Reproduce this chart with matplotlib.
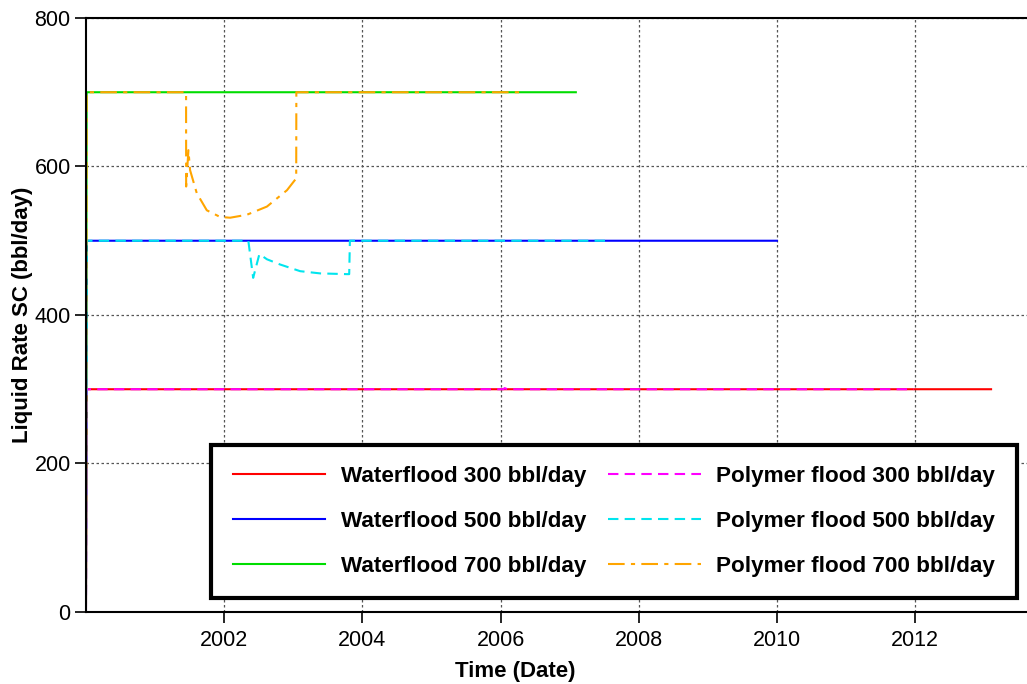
import numpy as np
import matplotlib
matplotlib.use("Agg")
import matplotlib.pyplot as plt

plt.rcParams['font.family'] = ['Liberation Sans', 'DejaVu Sans']

# time in decimal years, rate in bbl/day
wf300_t = [2000.0, 2000.01, 2013.10]
wf300_q = [0, 300, 300]
wf500_t = [2000.0, 2000.01, 2010.0]
wf500_q = [0, 500, 500]
wf700_t = [2000.0, 2000.01, 2007.09]
wf700_q = [0, 700, 700]

pf300_t = [2000.0, 2000.01, 2006.04, 2006.06, 2006.10, 2011.98]
pf300_q = [0, 300, 300, 301.5, 300, 300]
pf500_t = [2000.0, 2000.01, 2002.35, 2002.42, 2002.51, 2002.62, 2002.81,
           2003.10, 2003.39, 2003.78, 2003.81, 2003.82, 2007.55]
pf500_q = [0, 500, 500, 450, 482, 475, 468, 459, 456, 455, 455, 500, 500]
pf700_t = [2000.0, 2000.01, 2001.449, 2001.45, 2001.483, 2001.507, 2001.604,
           2001.749, 2001.942, 2002.087, 2002.329, 2002.619, 2002.909,
           2003.043, 2003.045, 2006.29]
pf700_q = [0, 700, 700, 573, 622, 595, 564, 541, 532, 531, 535, 546, 568,
           584, 700, 700]

fig = plt.figure(figsize=(10.27, 6.84), dpi=100)
ax = fig.add_axes([0.0837, 0.1053, 0.9163, 0.8684])

ax.plot(wf300_t, wf300_q, color='#FF0000', lw=1.5, label='Waterflood 300 bbl/day')
ax.plot(wf500_t, wf500_q, color='#0000FF', lw=1.5, label='Waterflood 500 bbl/day')
ax.plot(wf700_t, wf700_q, color='#00DD00', lw=1.5, label='Waterflood 700 bbl/day')
ax.plot(pf300_t, pf300_q, color='#FF00FF', lw=1.5, ls=(0, (5, 3)), label='Polymer flood 300 bbl/day')
ax.plot(pf500_t, pf500_q, color='#00E5EE', lw=1.5, ls=(0, (5, 3)), label='Polymer flood 500 bbl/day')
ax.plot(pf700_t, pf700_q, color='#FFA500', lw=1.5, ls=(0, (8, 3, 2, 3)), label='Polymer flood 700 bbl/day')

ax.set_xlim(2000.0, 2013.62)
ax.set_ylim(0, 800)
ax.set_xticks([2002, 2004, 2006, 2008, 2010, 2012])
ax.set_xticklabels(['2002', '2004', '2006', '2008', '2010', '2012'])
ax.set_yticks([0, 200, 400, 600, 800])
ax.tick_params(axis='both', direction='out', length=8, width=1.2, labelsize=15.5)
ax.tick_params(axis='x', pad=5)
ax.tick_params(axis='y', pad=3)
ax.grid(True, color='#555555', ls=(0, (2, 2)), lw=0.9)

ax.spines['right'].set_visible(False)
for s in ['left', 'bottom', 'top']:
    ax.spines[s].set_linewidth(1.5)

ax.set_xlabel('Time (Date)', fontsize=16, fontweight='bold')
ax.xaxis.set_label_coords((515 - 86) / 941, -0.082)
ax.set_ylabel('Liquid Rate SC (bbl/day)', fontsize=16, fontweight='bold')
ax.yaxis.set_label_coords(-0.0563, 0.5)

leg = ax.legend(loc='lower right', ncol=2, prop={'weight': 'bold', 'size': 16.2},
                frameon=True, fancybox=False, edgecolor='black', framealpha=1,
                handlelength=4.1, handletextpad=0.7, columnspacing=1.0,
                labelspacing=1.06, borderpad=0.95, bbox_to_anchor=(1.001, 0.004))
leg.get_frame().set_linewidth(3)

fig.savefig('out.png', dpi=100)
